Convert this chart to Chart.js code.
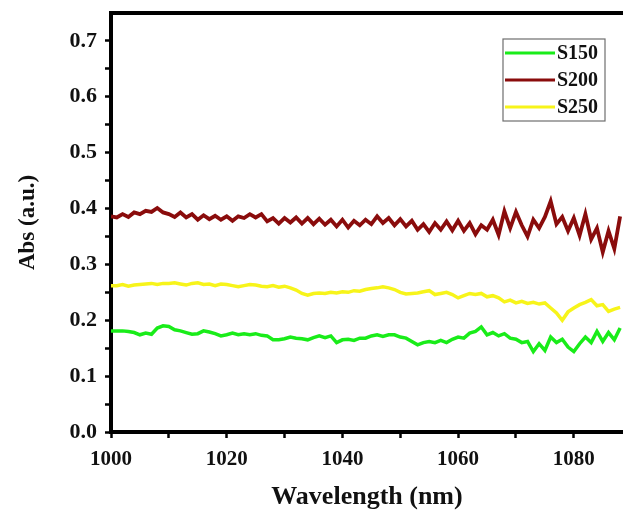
<!DOCTYPE html>
<html>
<head>
<meta charset="utf-8">
<script src="https://cdn.jsdelivr.net/npm/chart.js@4.4.0/dist/chart.umd.min.js"></script>
<style>
  html, body { margin: 0; padding: 0; background: #fff; }
  #wrap { width: 623px; height: 513px; position: relative; }
</style>
</head>
<body>
<div id="wrap"><canvas id="abs_chart"></canvas></div>
<script>
// wavelength (nm)
var wavelength = [
    1000, 1001, 1002, 1003, 1004, 1005, 1006, 1007, 1008, 1009,
    1010, 1011, 1012, 1013, 1014, 1015, 1016, 1017, 1018, 1019,
    1020, 1021, 1022, 1023, 1024, 1025, 1026, 1027, 1028, 1029,
    1030, 1031, 1032, 1033, 1034, 1035, 1036, 1037, 1038, 1039,
    1040, 1041, 1042, 1043, 1044, 1045, 1046, 1047, 1048, 1049,
    1050, 1051, 1052, 1053, 1054, 1055, 1056, 1057, 1058, 1059,
    1060, 1061, 1062, 1063, 1064, 1065, 1066, 1067, 1068, 1069,
    1070, 1071, 1072, 1073, 1074, 1075, 1076, 1077, 1078, 1079,
    1080, 1081, 1082, 1083, 1084, 1085, 1086, 1087, 1088
];

var s150 = [
    0.181, 0.181, 0.181, 0.180, 0.178, 0.174, 0.177, 0.175, 0.186, 0.190,
    0.189, 0.183, 0.181, 0.178, 0.175, 0.176, 0.181, 0.179, 0.176, 0.172,
    0.174, 0.177, 0.174, 0.176, 0.174, 0.176, 0.173, 0.172, 0.165, 0.165,
    0.167, 0.170, 0.168, 0.167, 0.165, 0.169, 0.172, 0.169, 0.172, 0.160,
    0.165, 0.166, 0.164, 0.168, 0.168, 0.172, 0.174, 0.171, 0.174, 0.174,
    0.170, 0.168, 0.162, 0.156, 0.160, 0.162, 0.160, 0.164, 0.160, 0.166,
    0.170, 0.168, 0.177, 0.180, 0.188, 0.174, 0.178, 0.172, 0.176, 0.168,
    0.166, 0.160, 0.162, 0.144, 0.158, 0.146, 0.170, 0.160, 0.166, 0.152,
    0.144, 0.158, 0.170, 0.160, 0.180, 0.162, 0.178, 0.165, 0.186
];

var s200 = [
    0.386, 0.384, 0.390, 0.385, 0.393, 0.390, 0.396, 0.394, 0.401, 0.393,
    0.390, 0.385, 0.393, 0.384, 0.390, 0.380, 0.388, 0.381, 0.387, 0.380,
    0.386, 0.378, 0.386, 0.383, 0.390, 0.384, 0.390, 0.377, 0.383, 0.373,
    0.383, 0.375, 0.384, 0.373, 0.383, 0.372, 0.382, 0.371, 0.380, 0.368,
    0.380, 0.366, 0.378, 0.370, 0.380, 0.372, 0.386, 0.374, 0.383, 0.370,
    0.381, 0.368, 0.378, 0.362, 0.372, 0.358, 0.374, 0.362, 0.377, 0.361,
    0.378, 0.360, 0.374, 0.354, 0.370, 0.362, 0.380, 0.353, 0.395, 0.365,
    0.394, 0.370, 0.350, 0.380, 0.365, 0.385, 0.413, 0.372, 0.385, 0.360,
    0.383, 0.352, 0.390, 0.345, 0.365, 0.322, 0.360, 0.328, 0.386
];

var s250 = [
    0.262, 0.262, 0.264, 0.261, 0.263, 0.264, 0.265, 0.266, 0.264, 0.266,
    0.266, 0.267, 0.265, 0.263, 0.266, 0.267, 0.264, 0.265, 0.262, 0.265,
    0.264, 0.262, 0.260, 0.262, 0.264, 0.263, 0.261, 0.260, 0.262, 0.259,
    0.261, 0.258, 0.254, 0.248, 0.245, 0.248, 0.249, 0.248, 0.250, 0.249,
    0.251, 0.250, 0.253, 0.252, 0.255, 0.257, 0.258, 0.260, 0.258, 0.255,
    0.250, 0.247, 0.248, 0.249, 0.251, 0.253, 0.246, 0.248, 0.250, 0.246,
    0.240, 0.244, 0.248, 0.246, 0.248, 0.242, 0.244, 0.240, 0.233, 0.236,
    0.231, 0.234, 0.230, 0.232, 0.229, 0.231, 0.222, 0.213, 0.200, 0.215,
    0.222, 0.228, 0.232, 0.237, 0.226, 0.228, 0.216, 0.220, 0.223
];

var x_ticks = [1000, 1010, 1020, 1030, 1040, 1050, 1060, 1070, 1080];
var y_ticks = [0.0, 0.05, 0.1, 0.15, 0.2, 0.25, 0.3, 0.35, 0.4, 0.45, 0.5, 0.55, 0.6, 0.65, 0.7];

function pts(ys) {
    return wavelength.map(function (x, i) { return { x: x, y: ys[i] }; });
}

var serif = "'Liberation Serif', 'Times New Roman', serif";

// boxed legend drawn inside the plot, like the original
var boxLegend = {
    id: 'boxLegend',
    afterDatasetsDraw: function (chart) {
        var ctx = chart.ctx;
        var left = 503, top = 39, w = 102, h = 82;
        ctx.save();
        ctx.strokeStyle = '#6e6e6e';
        ctx.lineWidth = 1.2;
        ctx.strokeRect(left, top, w, h);
        ctx.font = 'bold 20px ' + serif;
        ctx.textBaseline = 'middle';
        ctx.fillStyle = '#111';
        chart.data.datasets.forEach(function (ds, i) {
            var y = top + 14 + i * 27;
            ctx.strokeStyle = ds.borderColor;
            ctx.lineWidth = 3;
            ctx.beginPath();
            ctx.moveTo(left + 2, y);
            ctx.lineTo(left + 52, y);
            ctx.stroke();
            ctx.fillText(ds.label, left + 54, y + 1);
        });
        ctx.restore();
    }
};

var abs_chart = new Chart(document.getElementById('abs_chart'), {
    type: 'line',
    data: {
        datasets: [{
            label: 'S150',
            data: pts(s150),
            borderColor: '#19ec19',
            borderWidth: 3.5,
            pointRadius: 0,
            tension: 0
        }, {
            label: 'S200',
            data: pts(s200),
            borderColor: '#8a0c0c',
            borderWidth: 3.8,
            pointRadius: 0,
            tension: 0
        }, {
            label: 'S250',
            data: pts(s250),
            borderColor: '#f7f41a',
            borderWidth: 3.5,
            pointRadius: 0,
            tension: 0
        }]
    },
    options: {
        responsive: true,
        maintainAspectRatio: false,
        animation: false,
        layout: { padding: 0 },
        plugins: {
            legend: { display: false },
            tooltip: { enabled: false }
        },
        scales: {
            x: {
                type: 'linear',
                min: 1000,
                max: 1088.5,
                afterBuildTicks: function (scale) {
                    scale.ticks = x_ticks.map(function (v) { return { value: v }; });
                },
                afterFit: function (scale) {
                    scale.height = 81;
                    scale.paddingLeft = 0;
                    scale.paddingRight = 0;
                },
                ticks: {
                    color: '#111',
                    padding: 9,
                    maxRotation: 0,
                    autoSkip: false,
                    font: { family: serif, size: 21, weight: 'bold' },
                    callback: function (v) { return v % 20 === 0 ? String(v) : ''; }
                },
                grid: {
                    drawOnChartArea: false,
                    tickLength: 6,
                    tickWidth: 2.5,
                    tickColor: '#000'
                },
                border: { color: '#000', width: 4 },
                title: {
                    display: true,
                    text: 'Wavelength (nm)',
                    color: '#111',
                    font: { family: serif, size: 26, weight: 'bold' },
                    padding: { top: 4, bottom: 0 }
                }
            },
            xTop: {
                type: 'linear',
                position: 'top',
                min: 1000,
                max: 1088.5,
                afterFit: function (scale) {
                    scale.height = 13;
                    scale.paddingLeft = 0;
                    scale.paddingRight = 0;
                },
                ticks: { display: false },
                grid: { display: true, drawOnChartArea: false, drawTicks: false },
                border: { color: '#000', width: 4 }
            },
            y: {
                min: 0,
                max: 0.75,
                afterBuildTicks: function (scale) {
                    scale.ticks = y_ticks.map(function (v) { return { value: v }; });
                },
                afterFit: function (scale) {
                    scale.width = 111;
                    scale.paddingTop = 0;
                    scale.paddingBottom = 0;
                },
                ticks: {
                    color: '#111',
                    padding: 8,
                    autoSkip: false,
                    font: { family: serif, size: 22, weight: 'bold' },
                    callback: function (v) {
                        return Math.round(v * 100) % 10 === 0 ? v.toFixed(1) : '';
                    }
                },
                grid: {
                    drawOnChartArea: false,
                    tickLength: 6,
                    tickWidth: 2.5,
                    tickColor: '#000'
                },
                border: { color: '#000', width: 4 },
                title: {
                    display: true,
                    text: 'Abs (a.u.)',
                    color: '#111',
                    font: { family: serif, size: 23, weight: 'bold' },
                    padding: { top: 14, bottom: 4 }
                }
            }
        }
    },
    plugins: [boxLegend]
});
</script>
</body>
</html>
